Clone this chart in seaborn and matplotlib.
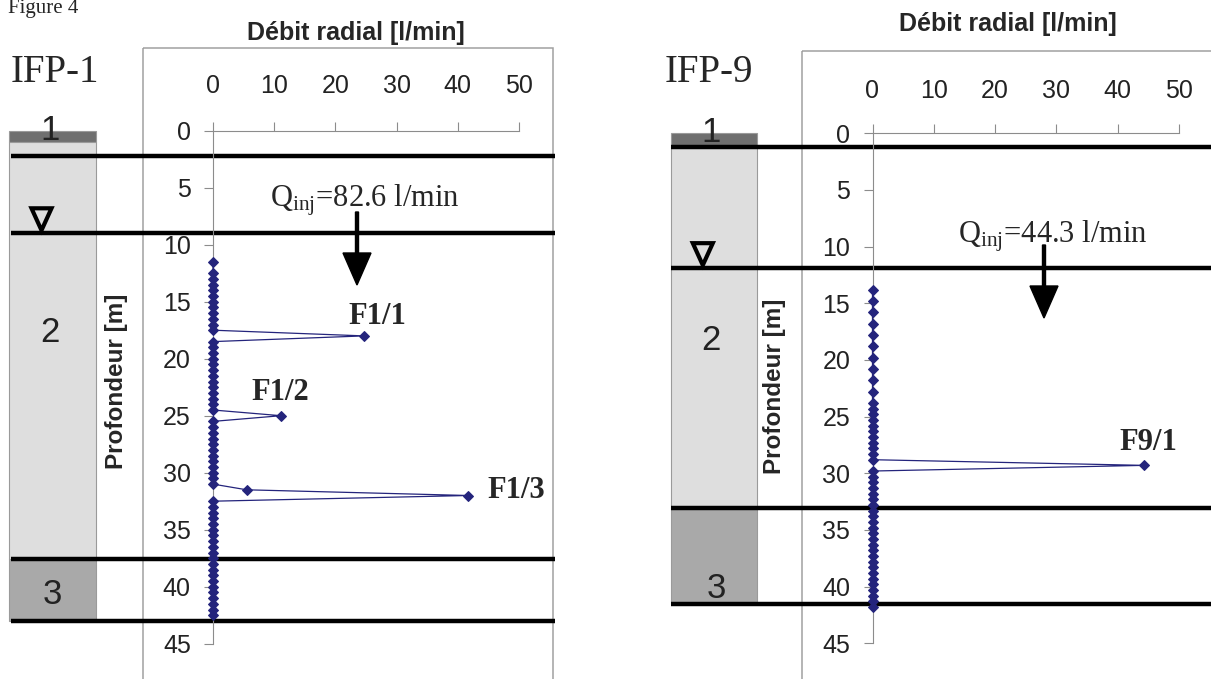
import matplotlib
matplotlib.use('Agg')
import matplotlib.pyplot as plt
import matplotlib.transforms as mtransforms
from matplotlib.patches import Rectangle, Polygon
import seaborn as sns

# radial flow logs, depth [m] and flow [l/min]
depth_ifp1 = [11.5,
              12.5, 13.0, 13.5, 14.0, 14.5, 15.0, 15.5, 16.0, 16.5, 17.0,
              17.5, 18.0, 18.5, 19.0, 19.5, 20.0, 20.5, 21.0, 21.5, 22.0,
              22.5, 23.0, 23.5, 24.0, 24.5, 25.0, 25.5, 26.0, 26.5, 27.0,
              27.5, 28.0, 28.5, 29.0, 29.5, 30.0, 30.5, 31.0, 31.5, 32.0,
              32.5, 33.0, 33.5, 34.0, 34.5, 35.0, 35.5, 36.0, 36.5, 37.0,
              37.5, 38.0, 38.5, 39.0, 39.5, 40.0, 40.5, 41.0, 41.5, 42.0,
              42.5]
flow_ifp1 = [0,
             0, 0, 0, 0, 0, 0, 0, 0, 0, 0,
             0, 24.7, 0, 0, 0, 0, 0, 0, 0, 0,
             0, 0, 0, 0, 0, 11.1, 0, 0, 0, 0,
             0, 0, 0, 0, 0, 0, 0, 0, 5.5, 41.7,
             0, 0, 0, 0, 0, 0, 0, 0, 0, 0,
             0, 0, 0, 0, 0, 0, 0, 0, 0, 0,
             0]

depth_ifp9 = [13.8, 14.8, 15.8, 16.8, 17.8, 18.8, 19.8, 20.8, 21.8, 22.8, 23.8,
              24.3, 24.8, 25.3, 25.8, 26.3, 26.8, 27.3, 27.8, 28.3, 28.8,
              29.3, 29.8, 30.3, 30.8, 31.3, 31.8, 32.3, 32.8, 33.3, 33.8,
              34.3, 34.8, 35.3, 35.8, 36.3, 36.8, 37.3, 37.8, 38.3, 38.8,
              39.3, 39.8, 40.3, 40.8, 41.3, 41.8]
flow_ifp9 = [0, 0, 0, 0, 0, 0, 0, 0, 0, 0, 0,
             0, 0, 0, 0, 0, 0, 0, 0, 0, 0,
             44.3, 0, 0, 0, 0, 0, 0, 0, 0, 0,
             0, 0, 0, 0, 0, 0, 0, 0, 0, 0,
             0, 0, 0, 0, 0, 0]

# stratigraphy: layer tops / bottoms [m], boundary lines [m], water table [m]
layers_ifp1 = [(0.0, 0.96), (0.96, 37.6), (37.6, 43.0)]
lines_ifp1 = [2.2, 9.0, 37.6, 43.0]
water_ifp1 = 9.0
layers_ifp9 = [(0.0, 1.2), (1.2, 33.1), (33.1, 41.5)]
lines_ifp9 = [1.2, 11.9, 33.1, 41.5]
water_ifp9 = 11.9
layer_colors = ['#6f6f6f', '#dedede', '#a9a9a9']
layer_z = [1, 2, 2]

x_ticks = [0, 10, 20, 30, 40, 50]
y_ticks = [0, 5, 10, 15, 20, 25, 30, 35, 40, 45]

sns.set_style('white')
plt.rcParams['font.family'] = ['Liberation Sans', 'DejaVu Sans']
plt.rcParams['mathtext.fontset'] = 'custom'
plt.rcParams['mathtext.rm'] = 'Liberation Serif'
plt.rcParams['mathtext.it'] = 'Liberation Serif:italic'

W, H = 1211, 679
fig = plt.figure(figsize=(W / 100, H / 100), dpi=100)
bg = fig.add_axes([0, 0, 1, 1])
bg.set_xlim(0, W)
bg.set_ylim(H, 0)
bg.axis('off')

serif = 'Liberation Serif'
line_col = '#24247c'
gray = '#8c8c8c'

bg.text(8, 13, 'Figure 4', family=serif, fontsize=15, va='baseline')

panels = [
    dict(name='IFP-1', depth=depth_ifp1, flow=flow_ifp1, layers=layers_ifp1,
         lines=lines_ifp1, water=water_ifp1, ax_x=(213, 519), ax_y=(130.7, 643.7),
         frame=(142.7, 48.3, 552.7), col=(9, 96), line_x=(11, 555),
         title_xy=(356, 33), name_xy=(55, 72), ylab_xy=(117, 381), pad=17,
         layer_lab=[(50, 131), (50, 333), (52, 595)], tri_dx=-11,
         q_text='Q$_{\\rm inj}$=82.6 l/min', q_xy=(365, 207), arrow=(357, 212, 285),
         peaks=[('F1/1', 377, 317), ('F1/2', 280, 392), ('F1/3', 516, 491)]),
    dict(name='IFP-9', depth=depth_ifp9, flow=flow_ifp9, layers=layers_ifp9,
         lines=lines_ifp9, water=water_ifp9, ax_x=(872.5, 1179), ax_y=(133.3, 643.3),
         frame=(802, 50.7, 1260), col=(671, 756.6), line_x=(671, 1215),
         title_xy=(1008, 24), name_xy=(709, 72), ylab_xy=(775, 386), pad=15.5,
         layer_lab=[(711, 133), (711, 340), (716, 589)], tri_dx=-11,
         q_text='Q$_{\\rm inj}$=44.3 l/min', q_xy=(1053, 242), arrow=(1044, 245, 318),
         peaks=[('F9/1', 1148, 443)]),
]

for p in panels:
    fx0, fy0, fx1 = p['frame']
    bg.add_patch(Rectangle((fx0, fy0), fx1 - fx0, H + 20 - fy0, fill=False,
                           ec='#a0a0a0', lw=1.1))

    x0, x1 = p['ax_x']
    y0, y1 = p['ax_y']
    ax = fig.add_axes([x0 / W, 1 - y1 / H, (x1 - x0) / W, (y1 - y0) / H])
    ax.set_facecolor('none')
    sns.lineplot(x=p['flow'], y=p['depth'], sort=False, estimator=None, orient='y',
                 marker='D', markersize=5.5, color=line_col, mec=line_col,
                 linewidth=0.9, ax=ax)
    for ln in ax.lines:
        ln.set_clip_on(False)
        ln.set_zorder(5)
    ax.set_xlim(0, 50)
    ax.set_ylim(45, 0)
    ax.xaxis.tick_top()
    ax.set_xticks(x_ticks)
    ax.set_yticks(y_ticks)
    ax.tick_params(axis='x', top=True, bottom=False, direction='out', length=6.5,
                   width=0.8, color=gray, pad=p['pad'], labelsize=18, labelcolor='#222222')
    ax.tick_params(axis='y', left=True, direction='out', length=6.5, width=0.8,
                   color=gray, pad=9.5, labelsize=18, labelcolor='#222222')
    for s in ['right', 'bottom']:
        ax.spines[s].set_visible(False)
    for s in ['top', 'left']:
        ax.spines[s].set_color(gray)
        ax.spines[s].set_linewidth(0.8)
    ax.set_xlabel('')
    ax.set_ylabel('')

    # x in figure pixels, y in depth
    trans = mtransforms.blended_transform_factory(bg.transData, ax.transData)
    cx0, cx1 = p['col']
    for (top, bot), c, z in zip(p['layers'], layer_colors, layer_z):
        bg.add_patch(Rectangle((cx0, top), cx1 - cx0, bot - top, transform=trans,
                               fc=c, ec='#9a9a9a', lw=0.8, zorder=z))
    lx0, lx1 = p['line_x']
    for d in p['lines']:
        bg.plot([lx0, lx1], [d, d], transform=trans, color='k', lw=3.2,
                solid_capstyle='butt', zorder=4)

    # water table symbol
    wy = ax.transData.transform((0, p['water']))[1]
    wy = bg.transData.inverted().transform((0, wy))[1]
    tx = (cx0 + cx1) / 2 + p['tri_dx']
    bg.add_patch(Polygon([(tx - 10, wy - 25), (tx + 10, wy - 25), (tx, wy - 3)],
                         closed=True, fill=False, ec='k', lw=3, joinstyle='miter', zorder=5))

    for i, (lab, (lx, ly)) in enumerate(zip(['1', '2', '3'], p['layer_lab'])):
        bg.text(lx, ly, lab, fontsize=25, ha='center', va='center', color='#222222',
                zorder=1.5 if i == 0 else 3)

    bg.text(*p['title_xy'], 'Débit radial [l/min]', fontsize=18, fontweight='bold',
            ha='center', va='center')
    bg.text(*p['ylab_xy'], 'Profondeur [m]', fontsize=17.5, fontweight='bold',
            rotation=90, ha='center', va='center')
    bg.text(*p['name_xy'], p['name'], family=serif, fontsize=28, ha='center', va='center')

    bg.text(*p['q_xy'], p['q_text'], family=serif, fontsize=22, ha='center', va='baseline')
    axx, ay0, ay1 = p['arrow']
    bg.arrow(axx, ay0, 0, ay1 - ay0, width=3, head_width=28, head_length=32,
             length_includes_head=True, color='k', zorder=6)

    for lab, px, py in p['peaks']:
        bg.text(px, py, lab, family=serif, fontsize=22, fontweight='bold',
                ha='center', va='center')

fig.savefig('out.png', dpi=100)
